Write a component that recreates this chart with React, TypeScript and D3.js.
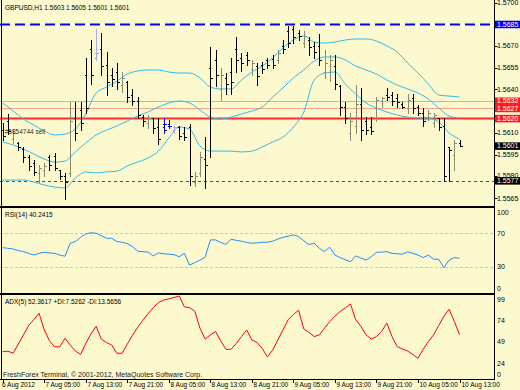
import React from 'react';
import * as d3 from 'd3';

// GBPUSD H1, first bar 6 Aug 2012 21:00
const firstBar = new Date(2012, 7, 6, 21, 0);

const open = [
  1.5612, 1.5618, 1.5606, 1.5603, 1.5599, 1.5593, 1.5589, 1.5582, 1.5584, 1.5593,
  1.5594, 1.5584, 1.5580, 1.5582, 1.5620, 1.5626, 1.5650, 1.5668, 1.5662, 1.5668,
  1.5657, 1.5650, 1.5652, 1.5643, 1.5645, 1.5636, 1.5632, 1.5621, 1.5617, 1.5620,
  1.5614, 1.5614, 1.5616, 1.5612, 1.5614, 1.5610, 1.5614, 1.5576, 1.5582, 1.5592,
  1.5655, 1.5660, 1.5640, 1.5648, 1.5652, 1.5668, 1.5662, 1.5664, 1.5654, 1.5656,
  1.5657, 1.5660, 1.5661, 1.5660, 1.5670, 1.5680, 1.5682, 1.5679, 1.5672, 1.5674,
  1.5670, 1.5670, 1.5652, 1.5652, 1.5656, 1.5642, 1.5628, 1.5610, 1.5615, 1.5630,
  1.5618, 1.5614, 1.5620, 1.5632, 1.5636, 1.5636, 1.5634, 1.5630, 1.5627, 1.5634,
  1.5628, 1.5624, 1.5620, 1.5617, 1.5620, 1.5615, 1.5600, 1.5595, 1.5603,
];
const high = [
  1.5617, 1.5623, 1.5612, 1.5604, 1.5600, 1.5595, 1.5591, 1.5588, 1.5589, 1.5595,
  1.5596, 1.5584, 1.5582, 1.5631, 1.5631, 1.5631, 1.5662, 1.5674, 1.5682, 1.5679,
  1.5666, 1.5655, 1.5658, 1.5652, 1.5646, 1.5640, 1.5635, 1.5622, 1.5622, 1.5620,
  1.5620, 1.5620, 1.5619, 1.5615, 1.5615, 1.5614, 1.5616, 1.5583, 1.5597, 1.5607,
  1.5669, 1.5667, 1.5655, 1.5651, 1.5662, 1.5676, 1.5665, 1.5666, 1.5660, 1.5658,
  1.5659, 1.5662, 1.5664, 1.5667, 1.5674, 1.5684, 1.5684, 1.5681, 1.5680, 1.5676,
  1.5673, 1.5678, 1.5667, 1.5664, 1.5664, 1.5643, 1.5631, 1.5624, 1.5643, 1.5641,
  1.5621, 1.5621, 1.5635, 1.5635, 1.5641, 1.5638, 1.5637, 1.5631, 1.5637, 1.5637,
  1.5629, 1.5627, 1.5626, 1.5624, 1.5620, 1.5620, 1.5600, 1.5605, 1.5605,
];
const low = [
  1.5605, 1.5609, 1.5603, 1.5598, 1.5590, 1.5584, 1.5581, 1.5576, 1.5580, 1.5584,
  1.5584, 1.5578, 1.5564, 1.5580, 1.5605, 1.5612, 1.5624, 1.5644, 1.5660, 1.5650,
  1.5636, 1.5642, 1.5640, 1.5638, 1.5631, 1.5629, 1.5620, 1.5615, 1.5613, 1.5610,
  1.5602, 1.5610, 1.5613, 1.5610, 1.5606, 1.5605, 1.5574, 1.5573, 1.5580, 1.5572,
  1.5593, 1.5642, 1.5633, 1.5637, 1.5637, 1.5652, 1.5653, 1.5657, 1.5650, 1.5643,
  1.5651, 1.5655, 1.5655, 1.5658, 1.5665, 1.5669, 1.5672, 1.5674, 1.5669, 1.5664,
  1.5662, 1.5657, 1.5648, 1.5646, 1.5640, 1.5622, 1.5617, 1.5605, 1.5610, 1.5605,
  1.5609, 1.5609, 1.5618, 1.5628, 1.5633, 1.5629, 1.5628, 1.5627, 1.5624, 1.5624,
  1.5622, 1.5615, 1.5619, 1.5614, 1.5612, 1.5577, 1.5577, 1.5584, 1.5601,
];
const close = [
  1.5608, 1.5611, 1.5610, 1.5600, 1.5593, 1.5587, 1.5583, 1.5586, 1.5587, 1.5588,
  1.5586, 1.5580, 1.5576, 1.5618, 1.5610, 1.5617, 1.5627, 1.5650, 1.5665, 1.5656,
  1.5645, 1.5647, 1.5645, 1.5648, 1.5635, 1.5632, 1.5622, 1.5618, 1.5620, 1.5613,
  1.5606, 1.5612, 1.5615, 1.5614, 1.5608, 1.5607, 1.5580, 1.5580, 1.5593, 1.5588,
  1.5648, 1.5650, 1.5650, 1.5644, 1.5645, 1.5660, 1.5658, 1.5660, 1.5658, 1.5649,
  1.5654, 1.5657, 1.5657, 1.5665, 1.5668, 1.5672, 1.5676, 1.5677, 1.5677, 1.5669,
  1.5666, 1.5660, 1.5658, 1.5660, 1.5644, 1.5628, 1.5620, 1.5618, 1.5630, 1.5612,
  1.5612, 1.5611, 1.5633, 1.5634, 1.5635, 1.5632, 1.5631, 1.5628, 1.5633, 1.5627,
  1.5624, 1.5618, 1.5624, 1.5622, 1.5614, 1.5580, 1.5598, 1.5603, 1.5601,
];

// Bollinger Bands (20, 2)
const bbStep = 2;
const bbUpper = [
  1.56306, 1.56251, 1.56195, 1.56154, 1.56113, 1.56085, 1.56092, 1.56126, 1.56230, 1.56375,
  1.56416, 1.56458, 1.56506, 1.56527, 1.56534, 1.56534, 1.56520, 1.56513, 1.56513, 1.56479,
  1.56416, 1.56403, 1.56403, 1.56465, 1.56520, 1.56561, 1.56617, 1.56686, 1.56741, 1.56769,
  1.56727, 1.56720, 1.56727, 1.56741, 1.56748, 1.56748, 1.56734, 1.56700, 1.56658, 1.56582,
  1.56513, 1.56437, 1.56361, 1.56354, 1.56347,
];
const bbMiddle = [
  1.56037, 1.56016, 1.55988, 1.55954, 1.55919, 1.55898, 1.55905, 1.55968, 1.56030, 1.56085,
  1.56119, 1.56147, 1.56182, 1.56216, 1.56244, 1.56278, 1.56306, 1.56320, 1.56306, 1.56258,
  1.56209, 1.56195, 1.56209, 1.56230, 1.56251, 1.56278, 1.56347, 1.56410, 1.56479, 1.56534,
  1.56596, 1.56624, 1.56624, 1.56603, 1.56561, 1.56534, 1.56506, 1.56465, 1.56430, 1.56403,
  1.56375, 1.56334, 1.56271, 1.56216, 1.56202,
];
const bbLower = [
  1.55774, 1.55774, 1.55774, 1.55760, 1.55740, 1.55726, 1.55719, 1.55788, 1.55830, 1.55823,
  1.55830, 1.55836, 1.55871, 1.55898, 1.55926, 1.55974, 1.56064, 1.56140, 1.56126, 1.56009,
  1.55974, 1.55974, 1.55974, 1.55968, 1.55974, 1.56002, 1.56037, 1.56071, 1.56140, 1.56244,
  1.56465, 1.56513, 1.56520, 1.56437, 1.56368, 1.56306, 1.56271, 1.56244, 1.56223, 1.56209,
  1.56202, 1.56202, 1.56175, 1.56099, 1.56057,
];

const rsi = [
  52.8, 52, 51.2, 49.5, 48, 46, 44, 46, 47.2, 46.5,
  46, 44, 42.6, 58, 60, 65, 69, 70.5, 70, 67,
  64, 64, 60, 59.2, 57.5, 54, 48.6, 48, 47.5, 43,
  46.5, 45.5, 45, 44.5, 42, 46, 32, 35, 38, 41.4,
  62, 62, 59, 56.8, 62.8, 61.5, 60.5, 59, 58, 58.5,
  59.2, 59.2, 60.5, 63, 65, 66.5, 68, 66, 61, 56.5,
  58, 52, 48, 53.4, 44, 41, 38.5, 36, 43, 40.5,
  38, 42, 47.2, 47.5, 48, 46, 45.5, 45, 47.8, 46,
  44, 41, 44, 39, 39, 29, 38, 41, 40.2415,
];

const adx = [
  32.2, 32.8, 30.3, 41, 52, 63, 70, 77.5, 58, 45,
  38, 38, 48, 40, 33, 29, 42, 53, 62, 47,
  43, 40, 30.3, 30.3, 41, 51.5, 61, 69, 77, 84,
  90, 93, 94.5, 96, 97.9, 85, 84, 80, 60, 47,
  52, 56, 45, 35, 35, 42, 50, 57.8, 46, 43,
  36, 26, 34, 46, 58, 70, 76, 81, 59, 55,
  50, 52, 60, 67.6, 74, 79.4, 84, 88.4, 70, 62,
  52, 47, 50, 56, 66, 50, 38, 35.4, 33, 29,
  24.4, 35, 44, 52, 63, 74, 82, 68, 52.3617,
];

// 1.5625 sits under the red tags, so it is not listed
const priceTicks = [1.57, 1.5685, 1.567, 1.5655, 1.564, 1.561, 1.5595, 1.558, 1.5565];
const rsiTicks = [100, 70, 30, 0];
const rsiLevels = [70, 30];
const adxTicks = [99, 74, 49, 24, 0];

const timeTicks = [
  new Date(2012, 7, 6, 21), new Date(2012, 7, 7, 5), new Date(2012, 7, 7, 13),
  new Date(2012, 7, 7, 21), new Date(2012, 7, 8, 5), new Date(2012, 7, 8, 13),
  new Date(2012, 7, 8, 21), new Date(2012, 7, 9, 5), new Date(2012, 7, 9, 13),
  new Date(2012, 7, 9, 21), new Date(2012, 7, 10, 5), new Date(2012, 7, 10, 13),
];
const timeLabels = [
  '6 Aug 2012', '7 Aug 05:00', '7 Aug 13:00', '7 Aug 21:00', '8 Aug 05:00', '8 Aug 13:00',
  '8 Aug 21:00', '9 Aug 05:00', '9 Aug 13:00', '9 Aug 21:00', '10 Aug 05:00', '10 Aug 13:00',
];

// horizontal objects and their price tags
const hLevels = [
  { price: 1.5685, kind: 'blue' },
  { price: 1.5632, kind: 'order' },
  { price: 1.5627, kind: 'order' },
  { price: 1.562, kind: 'red' },
  { price: 1.5577, kind: 'low' },
];
const priceTags = [
  { price: 1.5685, kind: 'blue' },
  { price: 1.5632, kind: 'red' },
  { price: 1.5627, kind: 'red' },
  { price: 1.562, kind: 'red' },
  { price: 1.5601, kind: 'black' },
  { price: 1.5577, kind: 'black' },
];

// trade arrows drawn on the bars
const orderMarks = [
  { time: new Date(2012, 7, 7, 15), price: 1.5665, kind: 'closed' },
  { time: new Date(2012, 7, 8, 4), price: 1.5616, kind: 'sell' },
  { time: new Date(2012, 7, 8, 5), price: 1.5615, kind: 'sell' },
  { time: new Date(2012, 7, 8, 6), price: 1.5614, kind: 'closed' },
];
const orderText = { time: new Date(2012, 7, 6, 21), price: 1.5611, text: '#5854744 sell' };

const W = 520;
const H = 390;
const axisX = 494.5;
const font = '"Liberation Sans", Arial, sans-serif';
const bg = '#fdf9cf';

const App = () => {
  const times = close.map((_, i) => d3.timeHour.offset(firstBar, i));
  const x = d3.scaleTime().domain([times[0], times[times.length - 1]]).range([2.7, 459.5]);
  const y = d3.scaleLinear().domain([1.5565, 1.57]).range([198, 2.5]);
  const yRsi = d3.scaleLinear().domain([0, 100]).range([292, 208]);
  const yAdx = d3.scaleLinear().domain([0, 99]).range([379, 295]);

  const px = (t: Date) => Math.round(x(t)) + 0.5;
  const py = (v: number) => Math.round(v) + 0.5;

  const bbLine = d3
    .line<number>()
    .x((_, i) => x(d3.timeHour.offset(firstBar, i * bbStep)))
    .y((d) => y(d))
    .curve(d3.curveMonotoneX);
  const rsiLine = d3
    .line<number>()
    .x((_, i) => x(times[i]))
    .y((d) => yRsi(d));
  const adxLine = d3
    .line<number>()
    .x((_, i) => x(times[i]))
    .y((d) => yAdx(d));

  const levelStyle: Record<string, any> = {
    blue: { stroke: '#0000ff', strokeWidth: 2, strokeDasharray: '10 5' },
    order: { stroke: '#f3a58a', strokeWidth: 1 },
    red: { stroke: '#ff2b2b', strokeWidth: 2 },
    low: { stroke: '#505040', strokeWidth: 1, strokeDasharray: '3 3' },
  };
  const tagFill: Record<string, string> = { blue: '#0000ff', red: '#ff1a1a', black: '#000000' };

  const small = { fontFamily: font, fontSize: 7, fill: '#000' };

  return (
    <svg width={W} height={H} style={{ position: 'absolute', left: 0, top: 0 }}>
      <rect x={0} y={0} width={W} height={H} fill={bg} />

      {/* main pane */}
      <g>
        {hLevels.map((l, i) => (
          <line key={i} x1={0} x2={axisX} y1={py(y(l.price))} y2={py(y(l.price))} {...levelStyle[l.kind]} />
        ))}
        {[bbUpper, bbMiddle, bbLower].map((band, i) => (
          <path key={i} d={bbLine(band) || ''} fill="none" stroke="#2ebcf0" strokeWidth={1} />
        ))}
        {times.map((t, i) => {
          const bx = px(t);
          const up = close[i] >= open[i];
          const c = up ? '#8a8a74' : '#000000';
          return (
            <g key={i} stroke={c} strokeWidth={1} shapeRendering="crispEdges">
              <line x1={bx} x2={bx} y1={y(high[i])} y2={y(low[i]) + 1} />
              <line x1={bx - 2} x2={bx} y1={py(y(open[i]))} y2={py(y(open[i]))} />
              <line x1={bx} x2={bx + 2} y1={py(y(close[i]))} y2={py(y(close[i]))} />
            </g>
          );
        })}
        {orderMarks.map((m, i) => {
          const idx = d3.timeHour.count(firstBar, m.time);
          const bx = px(m.time);
          const col = m.kind === 'sell' ? '#0000ff' : '#a9a9f5';
          return (
            <g key={i} stroke={col} strokeWidth={1} shapeRendering="crispEdges">
              <line x1={bx} x2={bx} y1={y(high[idx])} y2={y(low[idx]) + 1} />
              <line x1={bx - 2} x2={bx + 2} y1={py(y(m.price))} y2={py(y(m.price))} />
            </g>
          );
        })}
        <text x={x(orderText.time) + 2} y={y(orderText.price)} dominantBaseline="central" fontFamily={font} fontSize={6.5} fill="#303030">
          {orderText.text}
        </text>
        <text x={5} y={7} dominantBaseline="central" fontFamily={font} fontSize={6.5} fill="#000">
          GBPUSD,H1 1.5603 1.5605 1.5601 1.5601
        </text>
      </g>

      {/* RSI pane */}
      <g>
        {rsiLevels.map((v) => (
          <line key={v} x1={0} x2={axisX} y1={py(yRsi(v))} y2={py(yRsi(v))} stroke="#c8c8b8" strokeDasharray="3 2" />
        ))}
        <path d={rsiLine(rsi) || ''} fill="none" stroke="#1e90ff" strokeWidth={1} />
        <text x={5} y={214.5} dominantBaseline="central" fontFamily={font} fontSize={6.5} fill="#000">
          RSI(14) 40.2415
        </text>
      </g>

      {/* ADX pane */}
      <g>
        <path d={adxLine(adx) || ''} fill="none" stroke="#ff0000" strokeWidth={1} />
        <text x={5} y={301} dominantBaseline="central" fontFamily={font} fontSize={6.5} fill="#000">
          ADX(5) 52.3617 +DI:7.5262 -DI:13.5656
        </text>
        <text x={3} y={374} dominantBaseline="central" {...small} fill="#202020">
          FreshForex Terminal, © 2001-2012, MetaQuotes Software Corp.
        </text>
      </g>

      {/* frame */}
      <g stroke="#000" shapeRendering="crispEdges">
        <line x1={1.5} x2={1.5} y1={0} y2={379} strokeWidth={1} />
        <line x1={axisX} x2={axisX} y1={0} y2={379} strokeWidth={1} />
        <line x1={0} x2={axisX} y1={206.5} y2={206.5} strokeWidth={2} />
        <line x1={0} x2={axisX} y1={293.5} y2={293.5} strokeWidth={2} />
        <line x1={0} x2={axisX} y1={379.5} y2={379.5} strokeWidth={1} />
      </g>

      {/* price axis */}
      {priceTicks.map((p) => (
        <g key={p}>
          <line x1={axisX} x2={axisX + 3} y1={py(y(p))} y2={py(y(p))} stroke="#000" />
          <text x={497} y={p === 1.558 ? y(p) - 1 : y(p)} dominantBaseline="central" {...small}>
            {d3.format('.4f')(p)}
          </text>
        </g>
      ))}
      {priceTags.map((t, i) => (
        <g key={i}>
          <rect x={495} y={y(t.price) - 3.5} width={25} height={7.5} fill={tagFill[t.kind]} />
          <text x={497} y={y(t.price)} dominantBaseline="central" {...small} fill="#fff">
            {d3.format('.4f')(t.price)}
          </text>
        </g>
      ))}

      {/* RSI axis */}
      {rsiTicks.map((v) => (
        <text key={v} x={497} y={Math.max(212, Math.min(288, yRsi(v)))} dominantBaseline="central" {...small}>
          {v}
        </text>
      ))}

      {/* ADX axis */}
      {adxTicks.map((v) => (
        <text key={v} x={497} y={Math.min(374.5, yAdx(v) + 4.5)} dominantBaseline="central" {...small}>
          {v}
        </text>
      ))}

      {/* time axis */}
      {timeTicks.map((t, i) => (
        <g key={i}>
          <line x1={px(t)} x2={px(t)} y1={379} y2={383} stroke="#000" />
          <text x={i === 0 ? 2 : px(t) + 1} y={384.5} dominantBaseline="central" fontFamily={font} fontSize={6.5} fill="#000">
            {timeLabels[i]}
          </text>
        </g>
      ))}
    </svg>
  );
};

export default App;
